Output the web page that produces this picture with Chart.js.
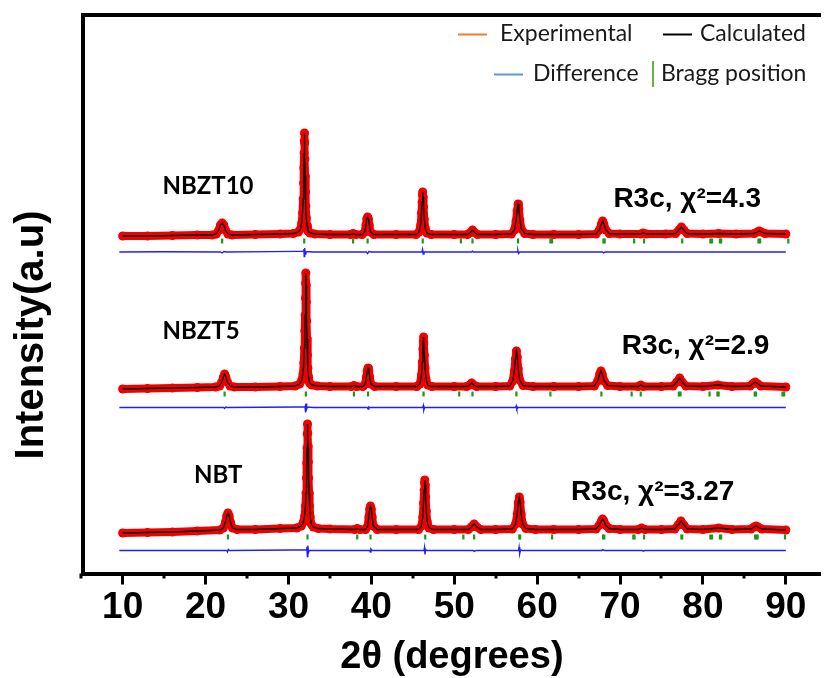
<!DOCTYPE html>
<html>
<head>
<meta charset="utf-8">
<title>Rietveld refinement - NBT / NBZT</title>
<script src="https://cdn.jsdelivr.net/npm/chart.js@4.4.0/dist/chart.umd.min.js"></script>
<style>
  html, body { margin: 0; padding: 0; background: #fff; }
  canvas { display: block; }
</style>
</head>
<body>
<canvas id="xrdChart" width="827" height="678"></canvas>
<script>
const samples = ['NBZT10', 'NBZT5', 'NBT']
const fitLabels = ['R3c, χ²=4.3', 'R3c, χ²=2.9', 'R3c, χ²=3.27']
const xMinorTicks = [5, 15, 25, 35, 45, 55, 65, 75, 85]

// [2theta, intensity above background] for each pattern
const nbzt10Obs = [
  [10.0, -1], [13.0, -1], [16.0, -0.5], [19.0, 0], [20.8, 0], [21.3, 1], [21.6, 5], [21.8, 10],
  [22.0, 12], [22.2, 10], [22.4, 5], [22.7, 1], [23.2, 0], [26.0, 0.5], [29.0, 1], [30.6, 1.5],
  [31.2, 3], [31.45, 6], [31.6, 12], [31.7, 22], [31.77, 36], [31.82, 52], [31.86, 67], [31.89, 82],
  [31.91, 94], [31.93, 102], [31.95, 92], [31.98, 76], [32.01, 59], [32.05, 43], [32.1, 29], [32.16, 17],
  [32.24, 9], [32.35, 4], [32.6, 2], [33.2, 1], [35.0, 0.5], [37.5, 0.5], [37.8, 1.5], [38.1, 0.5],
  [38.9, 0.5], [39.2, 3], [39.35, 10], [39.45, 16], [39.55, 18], [39.65, 16], [39.75, 10], [39.9, 3],
  [40.3, 0.5], [43.0, 0.5], [45.4, 0.5], [45.75, 3], [45.95, 10], [46.05, 22], [46.12, 33], [46.17, 40],
  [46.2, 43], [46.24, 38], [46.3, 28], [46.38, 16], [46.5, 7], [46.7, 2], [47.2, 0.5], [50.0, 0.5],
  [51.6, 0.5], [51.95, 2.5], [52.2, 5], [52.45, 2.5], [52.8, 0.5], [55.0, 0.5], [56.9, 1], [57.25, 5],
  [57.45, 14], [57.58, 24], [57.7, 31], [57.8, 26], [57.92, 15], [58.1, 6], [58.5, 1.5], [59.5, 0.5],
  [62.0, 0.5], [65.0, 0.5], [67.1, 1], [67.5, 5], [67.75, 11], [67.9, 14], [68.05, 11], [68.3, 5],
  [68.7, 1.5], [70.0, 1], [72.5, 1], [72.8, 2], [73.2, 1], [75.5, 1], [76.7, 1.5], [77.1, 5],
  [77.4, 8], [77.7, 5], [78.1, 1.5], [80.0, 1], [81.9, 1.5], [84.0, 1], [86.2, 1.5], [86.55, 3],
  [86.8, 4], [87.05, 3], [87.5, 1.5], [90.0, 1]
]

const nbzt5Obs = [
  [10.0, -2], [13.0, -1.5], [16.0, -1], [19.0, -0.5], [21.2, 0], [21.7, 1], [21.95, 5], [22.15, 10],
  [22.3, 13], [22.45, 10], [22.65, 5], [22.95, 1], [23.5, 0], [26.0, 0], [29.0, 0.5], [30.8, 1],
  [31.35, 3], [31.6, 7], [31.75, 13], [31.85, 24], [31.92, 39], [31.97, 56], [32.01, 72], [32.04, 89],
  [32.07, 104], [32.1, 114], [32.13, 102], [32.16, 85], [32.2, 66], [32.24, 48], [32.29, 32], [32.35, 19],
  [32.43, 10], [32.55, 4], [32.8, 2], [33.5, 1], [35.0, 0.5], [37.6, 0.5], [37.9, 1.5], [38.2, 0.5],
  [39.0, 0.5], [39.25, 3], [39.4, 10], [39.5, 16], [39.6, 19], [39.7, 16], [39.8, 10], [39.95, 3],
  [40.4, 0.5], [43.0, 0.5], [45.5, 0.5], [45.85, 3], [46.05, 12], [46.15, 25], [46.22, 38], [46.27, 46],
  [46.3, 50], [46.34, 44], [46.4, 32], [46.48, 19], [46.6, 8], [46.8, 2], [47.3, 0.5], [50.0, 0.5],
  [51.5, 0.5], [51.85, 2], [52.1, 4], [52.35, 2], [52.7, 0.5], [55.0, 0.5], [56.7, 1], [57.05, 6],
  [57.25, 16], [57.38, 28], [57.5, 36], [57.6, 30], [57.72, 18], [57.9, 7], [58.3, 1.5], [59.5, 0.5],
  [62.0, 0.5], [65.0, 0.5], [66.9, 1], [67.3, 6], [67.55, 13], [67.7, 16], [67.85, 13], [68.1, 6],
  [68.5, 1.5], [70.0, 0.5], [72.2, 0.5], [72.5, 2], [72.8, 0.5], [75.0, 0.5], [76.4, 1], [76.85, 5],
  [77.2, 9], [77.5, 5], [77.95, 1], [80.0, 0.5], [81.8, 2], [83.5, 0.5], [85.7, 1], [86.05, 3.5],
  [86.3, 5], [86.55, 3.5], [87.0, 1], [90.0, 0]
]

const nbtObs = [
  [10.0, -3], [13.0, -2.5], [16.0, -2], [19.0, -1], [21.7, 0], [22.15, 2], [22.4, 8], [22.55, 14],
  [22.7, 17], [22.85, 14], [23.0, 8], [23.25, 2], [23.8, 0.5], [26.0, 0.5], [29.0, 1.5], [31.0, 2],
  [31.55, 4], [31.8, 8], [31.95, 14], [32.05, 24], [32.12, 37], [32.17, 52], [32.21, 67], [32.24, 82],
  [32.27, 96], [32.3, 106], [32.33, 97], [32.36, 84], [32.4, 68], [32.44, 52], [32.49, 37], [32.55, 24],
  [32.63, 13], [32.75, 6], [33.0, 3], [33.6, 1.5], [35.0, 1], [38.0, 0.5], [38.3, 1.5], [38.6, 0.5],
  [39.3, 0.5], [39.55, 4], [39.7, 13], [39.8, 21], [39.9, 24], [40.0, 21], [40.1, 13], [40.25, 4],
  [40.7, 0.5], [43.0, 0.5], [45.7, 0.5], [46.05, 4], [46.2, 13], [46.3, 27], [46.37, 40], [46.42, 47],
  [46.45, 50], [46.49, 45], [46.55, 33], [46.63, 19], [46.75, 8], [46.95, 2], [47.5, 0.5], [50.0, 0.5],
  [51.7, 0.5], [52.05, 3], [52.4, 6], [52.75, 3], [53.2, 0.5], [55.0, 0.5], [57.0, 1], [57.4, 6],
  [57.6, 16], [57.72, 27], [57.85, 33], [57.95, 28], [58.08, 16], [58.25, 6], [58.65, 1.5], [59.8, 0.5],
  [62.0, 0.5], [65.0, 0.5], [67.1, 1], [67.5, 5], [67.75, 9], [67.9, 11], [68.05, 9], [68.3, 4.5],
  [68.7, 1.5], [70.0, 0.5], [72.2, 0.5], [72.6, 2], [73.0, 0.5], [75.0, 0.5], [76.6, 1], [77.0, 5],
  [77.35, 9], [77.7, 5], [78.1, 1], [80.0, 0.5], [81.9, 2], [83.5, 0.5], [85.8, 1], [86.15, 3],
  [86.4, 4], [86.65, 3], [87.1, 1], [90.0, 0]
]

// observed - calculated
const nbzt10Diff = [
  [9.6, 0], [15.0, 0.3], [21.8, 0], [22.0, -1], [22.2, 0.5], [22.5, 0], [28.0, 0.4], [31.0, 0.6],
  [31.8, 0.6], [31.86, 3], [31.9, -4.5], [31.96, 4], [32.02, -2], [32.1, 0.5], [33.0, 0], [39.4, 0],
  [39.55, -1.5], [39.7, 0.5], [40.0, 0], [46.1, 0], [46.18, 2.5], [46.25, -2], [46.35, 0], [52.1, 0],
  [52.2, 0.8], [52.3, 0], [57.6, 0], [57.68, 1.5], [57.76, -1.5], [57.9, 0], [67.9, 0], [68.0, -0.8],
  [68.2, 0], [90.0, 0]
]

const nbzt5Diff = [
  [9.6, 0], [22.2, 0], [22.3, -1], [22.45, 0.5], [22.6, 0], [31.0, 0.5], [32.0, 0.5], [32.04, 3],
  [32.08, -5], [32.13, 4], [32.2, -1.5], [32.3, 0.5], [33.0, 0], [39.5, 0], [39.6, -1.5], [39.7, 0.5],
  [39.8, 0], [46.2, 0], [46.27, 2], [46.33, -2.5], [46.42, 0], [57.4, 0], [57.47, 1.5], [57.55, -1.5],
  [57.7, 0], [90.0, 0]
]

const nbtDiff = [
  [9.6, 0], [22.55, 0], [22.65, -1.5], [22.75, 1], [22.9, 0], [30.5, 0.5], [32.15, 0.5], [32.22, 3.5],
  [32.28, -6], [32.34, 5], [32.42, -2], [32.5, 0], [39.8, 0], [39.87, -1.5], [39.95, 1.5], [40.1, 0],
  [46.35, 0], [46.41, 3], [46.47, -4], [46.55, 1], [46.7, 0], [52.3, 0], [52.4, -0.8], [52.6, 0],
  [57.75, 0], [57.82, 3.5], [57.9, -3], [58.0, 0.5], [58.2, 0], [67.8, 0], [67.9, 0.8], [68.1, 0],
  [72.7, 0], [72.8, -0.6], [73.0, 0], [90.0, 0]
]

// R3c reflection positions (2theta)
const nbzt10Bragg = [22.0, 31.9, 37.8, 39.55, 46.2, 50.8, 52.2, 57.7, 61.6, 61.8, 68.0, 68.15, 71.7, 72.9,
  77.5, 80.9, 81.1, 82.05, 82.2, 86.7, 86.9, 90.3]
const nbzt5Bragg = [22.3, 32.1, 37.9, 39.6, 46.3, 50.6, 52.2, 57.5, 61.6, 67.75, 71.4, 72.5, 77.1, 77.3,
  80.8, 81.75, 81.9, 86.25, 86.4, 89.6, 89.8]
const nbtBragg = [22.7, 32.3, 38.3, 39.9, 46.5, 51.1, 52.4, 57.85, 57.95, 61.8, 67.95, 68.1, 71.6, 71.75,
  72.9, 77.4, 77.5, 80.9, 81.1, 82.05, 82.2, 86.3, 86.45, 86.6, 89.9]

// vertical stacking of the three patterns
const patternOffset = [338.5, 186.5, 43.5]
const braggOffset = [332.5, 179.5, 36.5]
const diffOffset = [321.5, 166, 23]

// where the sample names and fit results sit, in data units
const namePos = [[14.8, 379.5], [14.8, 234.5], [18.6, 90.5]]
const fitPos = [[69.2, 366.5], [70.2, 220], [64.1, 73.5]]

const obsSets = [nbzt10Obs, nbzt5Obs, nbtObs]
const diffSets = [nbzt10Diff, nbzt5Diff, nbtDiff]
const braggSets = [nbzt10Bragg, nbzt5Bragg, nbtBragg]

const RED = '#f20000'
const datasets = []
samples.forEach((name, i) => {
  const toPoints = (arr, off) => arr.map(([a, v]) => ({x: a, y: v + off}))
  datasets.push({
    label: name + ' calculated',
    data: toPoints(obsSets[i], patternOffset[i]),
    showLine: true, borderColor: '#000', borderWidth: 1.3,
    pointRadius: 0, order: 0
  })
  datasets.push({
    label: name + ' experimental',
    data: toPoints(obsSets[i], patternOffset[i]),
    showLine: true, borderColor: RED, borderWidth: 8,
    borderJoinStyle: 'round', borderCapStyle: 'round',
    pointRadius: 4.5, pointBackgroundColor: RED, pointBorderWidth: 0, order: 1
  })
  datasets.push({
    label: name + ' difference',
    data: toPoints(diffSets[i], diffOffset[i]),
    showLine: true, borderColor: '#1f1fff', borderWidth: 1.4,
    pointRadius: 0, order: 0
  })
  datasets.push({
    label: name + ' Bragg position',
    data: braggSets[i].map(a => ({x: a, y: braggOffset[i]})),
    showLine: false, pointStyle: 'line', rotation: 90,
    pointRadius: 2.4, pointBorderWidth: 2.2, pointBorderColor: '#1a9a1a', order: 0
  })
})

const legendItems = [
  {text: 'Experimental', color: '#ed7d31', kind: 'line', x: 458, textX: 500, y: 34},
  {text: 'Calculated', color: '#000000', kind: 'line', x: 663, textX: 700, y: 34},
  {text: 'Difference', color: '#5b9bd5', kind: 'line', x: 494, textX: 533, y: 74},
  {text: 'Bragg position', color: '#70ad47', kind: 'bar', x: 653, textX: 661, y: 74}
]

const decorations = {
  id: 'decorations',
  afterDraw(chart) {
    const {ctx, scales: {x, y}} = chart
    ctx.save()

    // short minor ticks between the labelled ones
    ctx.strokeStyle = '#000'
    ctx.lineWidth = 3
    xMinorTicks.forEach(v => {
      const px = Math.round(x.getPixelForValue(v))
      ctx.beginPath()
      ctx.moveTo(px, x.top)
      ctx.lineTo(px, x.top + 5)
      ctx.stroke()
    })

    // y title
    ctx.save()
    ctx.translate(32, 335)
    ctx.rotate(-Math.PI / 2)
    ctx.fillStyle = '#000'
    ctx.font = 'bold 40px "Liberation Sans", Arial, sans-serif'
    ctx.textAlign = 'center'
    ctx.textBaseline = 'middle'
    ctx.fillText('Intensity(a.u)', 0, 0)
    ctx.restore()

    // sample names and fit results
    ctx.fillStyle = '#000'
    ctx.textAlign = 'left'
    ctx.textBaseline = 'alphabetic'
    ctx.font = 'bold 24px Lato, "Open Sans", sans-serif'
    samples.forEach((name, i) => {
      ctx.fillText(name, x.getPixelForValue(namePos[i][0]), y.getPixelForValue(namePos[i][1]))
    })
    ctx.font = 'bold 28px "Liberation Sans", Arial, sans-serif'
    fitLabels.forEach((txt, i) => {
      ctx.fillText(txt, x.getPixelForValue(fitPos[i][0]), y.getPixelForValue(fitPos[i][1]))
    })

    // legend
    ctx.font = '23px Lato, "Open Sans", sans-serif'
    ctx.textBaseline = 'middle'
    legendItems.forEach(item => {
      ctx.strokeStyle = item.color
      ctx.lineWidth = 2
      ctx.beginPath()
      if (item.kind === 'line') {
        ctx.moveTo(item.x, item.y + 0.5)
        ctx.lineTo(item.x + 29, item.y + 0.5)
      } else {
        ctx.moveTo(item.x, item.y - 13)
        ctx.lineTo(item.x, item.y + 13)
      }
      ctx.stroke()
      ctx.fillStyle = '#1a1a1a'
      ctx.fillText(item.text, item.textX, item.y)
    })

    ctx.restore()
  }
}

new Chart(document.getElementById('xrdChart'), {
  type: 'scatter',
  data: {datasets: datasets},
  options: {
    responsive: false,
    devicePixelRatio: 1,
    animation: false,
    layout: {padding: 0},
    plugins: {
      legend: {display: false},
      tooltip: {enabled: false}
    },
    scales: {
      x: {
        type: 'linear',
        position: 'bottom',
        min: 5.215,
        max: 94.22,
        ticks: {
          stepSize: 10,
          includeBounds: false,
          padding: 1,
          color: '#000',
          font: {family: 'Liberation Sans', weight: 'bold', size: 37}
        },
        grid: {
          drawOnChartArea: false,
          drawTicks: true,
          tickLength: 11,
          tickWidth: 3,
          tickColor: '#000'
        },
        border: {display: true, width: 4, color: '#000'},
        title: {
          display: true,
          text: '2θ (degrees)',
          color: '#000',
          padding: {top: 0, bottom: 1},
          font: {family: 'Liberation Sans', weight: 'bold', size: 38, lineHeight: 1}
        },
        afterFit(scale) { scale.height = 104.5 }
      },
      xTop: {
        type: 'linear',
        position: 'top',
        min: 5.215,
        max: 94.22,
        ticks: {display: false},
        grid: {display: false, drawTicks: false},
        border: {display: true, width: 4, color: '#000'},
        afterFit(scale) { scale.height = 14.5 }
      },
      y: {
        type: 'linear',
        min: 0,
        max: 559,
        ticks: {display: false},
        grid: {display: false, drawTicks: false},
        border: {display: true, width: 4, color: '#000'},
        afterFit(scale) { scale.width = 83 }
      }
    }
  },
  plugins: [decorations]
})
</script>
</body>
</html>
